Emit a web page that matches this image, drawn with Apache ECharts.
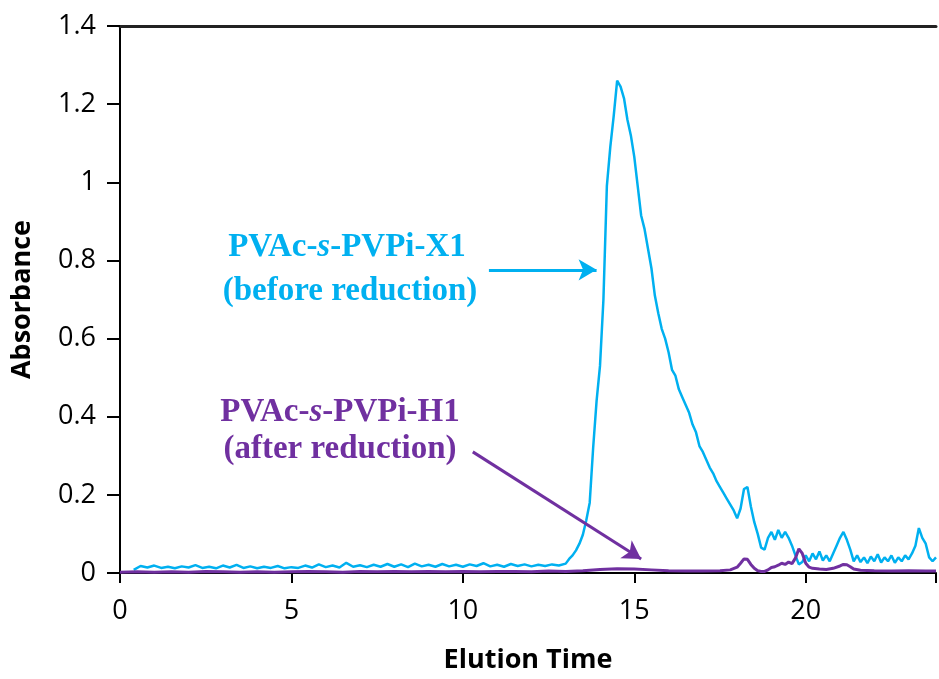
<!DOCTYPE html>
<html>
<head>
<meta charset="utf-8">
<script src="https://cdn.jsdelivr.net/npm/echarts@6/dist/echarts.min.js"></script>
<style>html,body{margin:0;padding:0;background:#fff}#chart{width:939px;height:679px}</style>
</head>
<body>
<div id="chart"></div>
<script>
// ---- data ----
const xTicks = [0, 5, 10, 15, 20];
const yTicks = [0, 0.2, 0.4, 0.6, 0.8, 1, 1.2, 1.4];

const blueTime = [
 0.4,0.6,0.8,1.0,1.2,1.4,1.6,1.8,2.0,2.2,2.4,2.6,2.8,3.0,3.2,3.4,3.6,3.8,4.0,4.2,
 4.4,4.6,4.8,5.0,5.2,5.4,5.6,5.8,6.0,6.2,6.4,6.6,6.8,7.0,7.2,7.4,7.6,7.8,8.0,8.2,
 8.4,8.6,8.8,9.0,9.2,9.4,9.6,9.8,10.0,10.2,10.4,10.6,10.8,11.0,11.2,11.4,11.6,11.8,12.0,12.2,
 12.4,12.6,12.8,13.0,13.1,13.2,13.3,13.4,13.5,13.6,13.7,13.8,13.9,14.0,14.1,14.2,14.3,14.4,14.5,14.6,
 14.7,14.8,14.9,15.0,15.1,15.2,15.3,15.4,15.5,15.6,15.7,15.8,15.9,16.0,16.1,16.2,16.3,16.4,16.5,16.6,
 16.7,16.8,16.9,17.0,17.1,17.2,17.3,17.4,17.5,17.6,17.7,17.8,17.9,18.0,18.1,18.2,18.3,18.4,18.5,18.6,
 18.7,18.8,18.9,19.0,19.1,19.2,19.3,19.4,19.5,19.6,19.7,19.8,19.9,20.0,20.1,20.2,20.3,20.4,20.5,20.6,
 20.7,20.8,20.9,21.0,21.1,21.2,21.3,21.4,21.5,21.6,21.7,21.8,21.9,22.0,22.1,22.2,22.3,22.4,22.5,22.6,
 22.7,22.8,22.9,23.0,23.1,23.2,23.3,23.4,23.5,23.6,23.7,23.8
];
const blueAbs = [
 0.008,0.018,0.014,0.019,0.013,0.016,0.012,0.017,0.014,0.020,0.013,0.016,0.012,0.019,0.014,0.021,0.013,0.017,0.012,0.016,
 0.013,0.018,0.012,0.015,0.013,0.019,0.014,0.022,0.015,0.019,0.014,0.026,0.016,0.020,0.015,0.021,0.016,0.023,0.016,0.022,
 0.015,0.024,0.017,0.021,0.016,0.023,0.017,0.021,0.016,0.022,0.018,0.025,0.017,0.021,0.016,0.023,0.018,0.022,0.017,0.021,
 0.018,0.022,0.019,0.024,0.036,0.045,0.058,0.075,0.098,0.135,0.180,0.320,0.440,0.530,0.700,0.990,1.090,1.170,1.260,1.245,
 1.215,1.160,1.120,1.065,0.990,0.915,0.880,0.830,0.780,0.710,0.665,0.625,0.600,0.565,0.520,0.505,0.470,0.450,0.430,0.410,
 0.380,0.360,0.325,0.310,0.290,0.270,0.255,0.235,0.220,0.205,0.190,0.175,0.160,0.140,0.165,0.215,0.220,0.170,0.130,0.100,
 0.065,0.060,0.090,0.105,0.085,0.110,0.090,0.105,0.090,0.070,0.045,0.022,0.028,0.045,0.030,0.050,0.035,0.055,0.032,0.045,
 0.030,0.050,0.070,0.090,0.105,0.085,0.060,0.030,0.045,0.028,0.040,0.025,0.042,0.030,0.048,0.027,0.040,0.030,0.045,0.026,
 0.040,0.030,0.045,0.035,0.050,0.070,0.115,0.090,0.075,0.040,0.030,0.040
];

const purpleTime = [
 0.0,0.5,1.0,1.5,2.0,2.5,3.0,3.5,4.0,4.5,5.0,5.5,6.0,6.5,7.0,7.5,8.0,8.5,9.0,9.5,
 10.0,10.5,11.0,11.5,12.0,12.5,13.0,13.5,14.0,14.5,15.0,15.5,16.0,16.5,17.0,17.5,17.8,18.0,18.1,18.2,
 18.3,18.4,18.5,18.6,18.7,18.8,18.9,19.0,19.1,19.2,19.3,19.4,19.5,19.6,19.7,19.8,19.9,20.0,20.1,20.2,
 20.4,20.6,20.8,21.0,21.1,21.2,21.3,21.4,21.6,22.0,22.5,23.0,23.5,23.8
];
const purpleAbs = [
 0.002,0.003,0.002,0.003,0.002,0.004,0.003,0.002,0.003,0.002,0.003,0.004,0.003,0.002,0.004,0.003,0.004,0.003,0.004,0.003,
 0.004,0.003,0.004,0.004,0.003,0.005,0.004,0.006,0.009,0.011,0.010,0.008,0.006,0.005,0.005,0.006,0.008,0.015,0.025,0.036,
 0.035,0.022,0.012,0.006,0.004,0.004,0.008,0.014,0.016,0.020,0.025,0.022,0.028,0.024,0.038,0.062,0.050,0.025,0.015,0.012,
 0.010,0.009,0.012,0.018,0.022,0.021,0.016,0.010,0.007,0.006,0.005,0.006,0.005,0.005
];

// annotation arrows (data coordinates: [time, absorbance])
const blueArrow = [[10.76, 0.776], [13.9, 0.776]];
const purpleArrow = [[10.29, 0.31], [15.2, 0.036]];

const blueColor = '#00B0F0';
const purpleColor = '#7030A0';

const zip = (xs, ys) => xs.map((x, i) => [x, ys[i]]);

const chart = echarts.init(document.getElementById('chart'), null, {renderer: 'canvas'});

const labelFont = {fontFamily: '"Open Sans", sans-serif', fontSize: 27, color: '#000'};
const nameFont = {fontFamily: '"Open Sans", sans-serif', fontSize: 27, fontWeight: 'bold', color: '#000'};
const serif = '"Liberation Serif", "DejaVu Serif", serif';

function richText(pre, it, post, color) {
  return {
    text: '{n|' + pre + '}{i|' + it + '}{n|' + post + '}',
    rich: {
      n: {fontFamily: serif, fontSize: 33, fontWeight: 'bold', fill: color},
      i: {fontFamily: serif, fontSize: 33, fontWeight: 'bold', fontStyle: 'italic', fill: color}
    }
  };
}

chart.setOption({
  animation: false,
  backgroundColor: '#fff',
  grid: {left: 120, right: 0, top: 26, bottom: 102, containLabel: false},
  xAxis: [{
    type: 'value', min: 0, max: 23.8, interval: 5,
    name: 'Elution Time', nameLocation: 'middle', nameGap: 74, nameTextStyle: nameFont,
    axisLine: {show: true, lineStyle: {color: '#000', width: 2}},
    axisTick: {show: true, length: 10, lineStyle: {color: '#000', width: 2}},
    axisLabel: Object.assign({margin: 25, formatter: v => xTicks.includes(v) ? String(v) : ''}, labelFont),
    splitLine: {show: false}
  }, {
    type: 'value', position: 'top', min: 0, max: 23.8,
    axisLine: {show: true, onZero: false, lineStyle: {color: '#222', width: 3}},
    axisTick: {show: false}, axisLabel: {show: false}, splitLine: {show: false}
  }],
  yAxis: {
    type: 'value', min: 0, max: 1.4, interval: 0.2,
    name: 'Absorbance', nameLocation: 'middle', nameGap: 84, nameTextStyle: nameFont,
    axisLine: {show: true, lineStyle: {color: '#000', width: 2}},
    axisTick: {show: true, length: 13, lineStyle: {color: '#000', width: 2}},
    axisLabel: Object.assign({margin: 24, formatter: v => {
      const m = yTicks.find(t => Math.abs(t - v) < 1e-9);
      return m === undefined ? '' : String(m);
    }}, labelFont),
    splitLine: {show: false}
  },
  series: [{
    name: 'PVAc-s-PVPi-X1', type: 'line', xAxisIndex: 0,
    data: zip(blueTime, blueAbs), showSymbol: false, symbol: 'none',
    lineStyle: {color: blueColor, width: 2.5}, itemStyle: {color: blueColor},
    z: 2,
    markLine: {
      silent: true, symbol: ['none', 'arrow'], symbolSize: [16, 18],
      label: {show: false},
      lineStyle: {color: blueColor, width: 3, type: 'solid'},
      data: [[{coord: blueArrow[0]}, {coord: blueArrow[1]}]]
    }
  }, {
    name: 'PVAc-s-PVPi-H1', type: 'line', xAxisIndex: 0,
    data: zip(purpleTime, purpleAbs), showSymbol: false, symbol: 'none',
    lineStyle: {color: purpleColor, width: 3}, itemStyle: {color: purpleColor},
    z: 3,
    markLine: {
      silent: true, symbol: ['none', 'arrow'], symbolSize: [16, 18],
      label: {show: false},
      lineStyle: {color: purpleColor, width: 3, type: 'solid'},
      data: [[{coord: purpleArrow[0]}, {coord: purpleArrow[1]}]]
    }
  }],
  graphic: [
    {type: 'text', x: 347, y: 247, style: Object.assign(richText('PVAc-', 's', '-PVPi-X1', blueColor), {textAlign: 'center', textVerticalAlign: 'middle'})},
    {type: 'text', x: 350, y: 291, style: {text: '(before reduction)', font: 'bold 33px ' + serif, fill: blueColor, textAlign: 'center', textVerticalAlign: 'middle'}},
    {type: 'text', x: 340, y: 412, style: Object.assign(richText('PVAc-', 's', '-PVPi-H1', purpleColor), {textAlign: 'center', textVerticalAlign: 'middle'})},
    {type: 'text', x: 340, y: 449, style: {text: '(after reduction)', font: 'bold 33px ' + serif, fill: purpleColor, textAlign: 'center', textVerticalAlign: 'middle'}}
  ]
});
</script>
</body>
</html>
